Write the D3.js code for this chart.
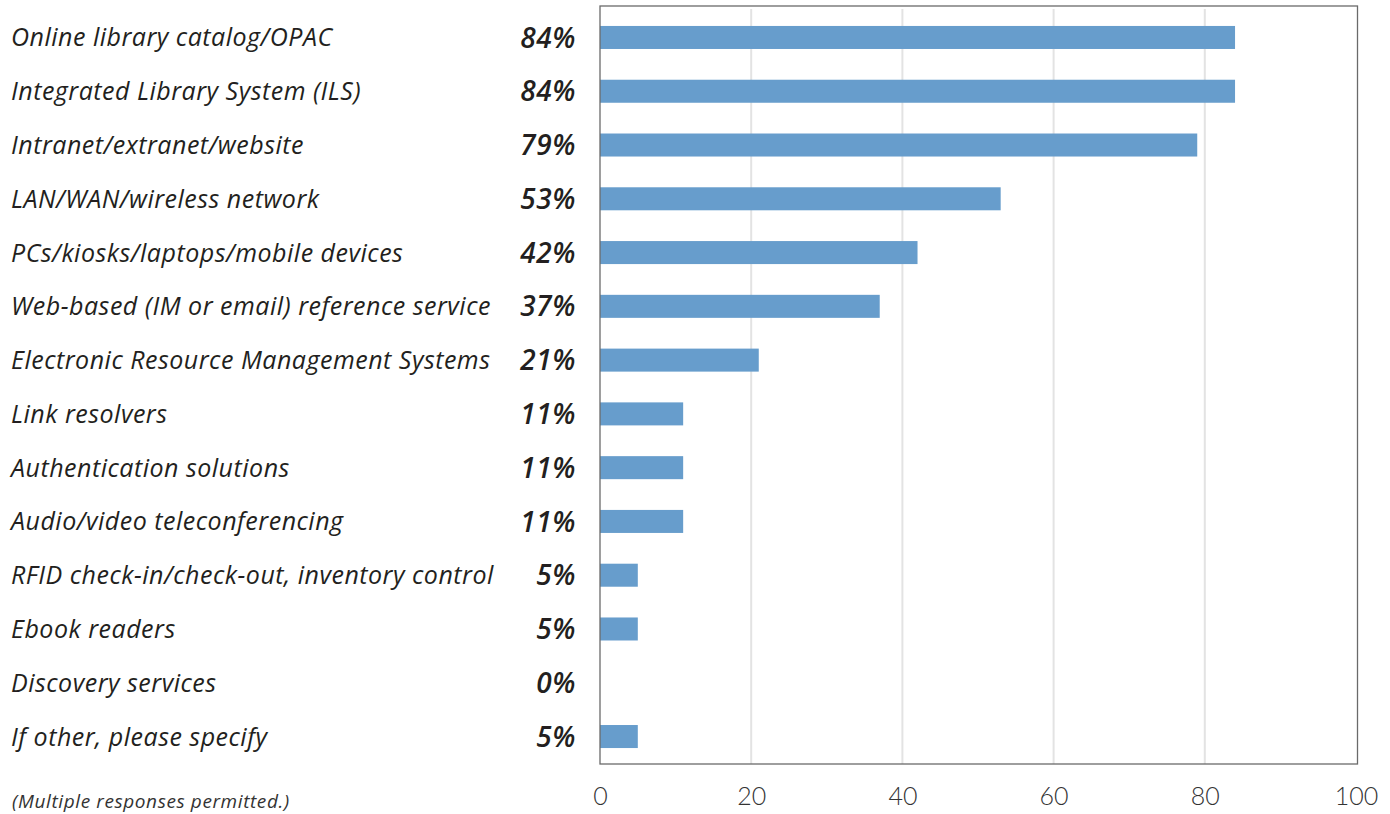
<!DOCTYPE html>
<html>
<head>
<meta charset="utf-8">
<script src="https://cdn.jsdelivr.net/npm/d3@7"></script>
<style>
  body { margin: 0; background: #fff; }
  svg { display: block; }
</style>
</head>
<body>
<svg id="chart" width="1390" height="814"></svg>
<script>
// Survey categories, top to bottom
const categories = [
  "Online library catalog/OPAC",
  "Integrated Library System (ILS)",
  "Intranet/extranet/website",
  "LAN/WAN/wireless network",
  "PCs/kiosks/laptops/mobile devices",
  "Web-based (IM or email) reference service",
  "Electronic Resource Management Systems",
  "Link resolvers",
  "Authentication solutions",
  "Audio/video teleconferencing",
  "RFID check-in/check-out, inventory control",
  "Ebook readers",
  "Discovery services",
  "If other, please specify"
];
// Share of respondents (%)
const values = [84, 84, 79, 53, 42, 37, 21, 11, 11, 11, 5, 5, 0, 5];
const xTicks = [0, 20, 40, 60, 80, 100];
const footnote = "(Multiple responses permitted.)";

const svg = d3.select("#chart");
const plot = { left: 600, right: 1356, top: 6, bottom: 764 };

const x = d3.scaleLinear().domain([0, 100]).range([plot.left, plot.right]);
const y = d3.scaleBand().domain(categories).range([plot.top + 2, plot.bottom + 2]).paddingInner(0.572).paddingOuter(0.334);

// gridlines
svg.append("g")
  .selectAll("line")
  .data(xTicks.filter(d => d > 0 && d < 100))
  .join("line")
  .attr("x1", d => x(d)).attr("x2", d => x(d))
  .attr("y1", plot.top + 3).attr("y2", plot.bottom)
  .attr("stroke", "#e3e3e3").attr("stroke-width", 2);

// bars
svg.append("g")
  .selectAll("rect")
  .data(categories)
  .join("rect")
  .attr("x", x(0))
  .attr("y", d => y(d))
  .attr("width", (d, i) => x(values[i]) - x(0))
  .attr("height", y.bandwidth())
  .attr("fill", "#679dcc");

// frame
svg.append("rect")
  .attr("x", plot.left).attr("y", plot.top)
  .attr("width", plot.right + 1.5 - plot.left).attr("height", plot.bottom - plot.top)
  .attr("fill", "none").attr("stroke", "#6a6a6a").attr("stroke-width", 1.3);

// x axis tick labels
const xAxis = d3.axisBottom(x).tickValues(xTicks).tickSize(0).tickPadding(23);
const gx = svg.append("g").attr("transform", `translate(0,${plot.bottom})`).call(xAxis);
gx.select(".domain").remove();
gx.selectAll("text")
  .attr("font-family", "Lato, sans-serif")
  .attr("font-weight", 300)
  .attr("font-size", 25)
  .attr("fill", "#333");

const labelFont = "'Open Sans', sans-serif";

// category labels
svg.append("g")
  .selectAll("text")
  .data(categories)
  .join("text")
  .attr("x", 11)
  .attr("y", d => y(d) + y.bandwidth() / 2)
  .attr("dy", "0.36em")
  .attr("font-family", labelFont)
  .attr("font-style", "italic")
  .attr("font-size", 25)
  .attr("letter-spacing", 0.5)
  .attr("fill", "#231f20")
  .text(d => d);

// percentage labels
svg.append("g")
  .selectAll("text")
  .data(categories)
  .join("text")
  .attr("x", 576)
  .attr("y", d => y(d) + y.bandwidth() / 2)
  .attr("dy", "0.36em")
  .attr("text-anchor", "end")
  .attr("font-family", labelFont)
  .attr("font-style", "italic")
  .attr("font-weight", 600)
  .attr("font-size", 28)
  .attr("letter-spacing", 0.6)
  .attr("fill", "#231f20")
  .text((d, i) => values[i] + "%");

// footnote
svg.append("text")
  .attr("x", 12).attr("y", 808)
  .attr("font-family", labelFont)
  .attr("font-style", "italic")
  .attr("font-size", 19)
  .attr("letter-spacing", 0.6)
  .attr("fill", "#333")
  .text(footnote);
</script>
</body>
</html>
